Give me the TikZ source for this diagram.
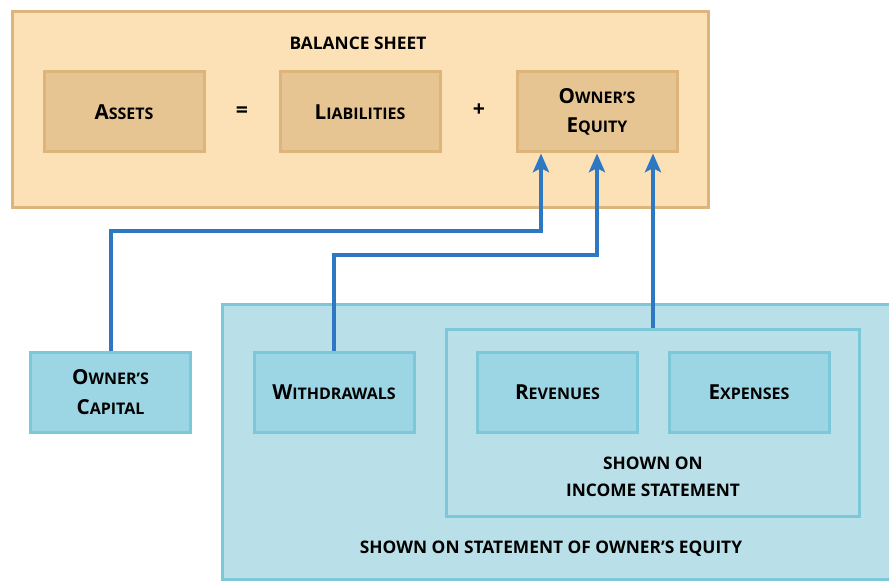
\documentclass[tikz,border=0pt]{standalone}
\usepackage{fontspec}
\setmainfont{Open Sans}
\usetikzlibrary{arrows.meta}
\definecolor{sheetline}{HTML}{DDB57A}
\definecolor{sheetfill}{HTML}{FCE1B6}
\definecolor{itemfill}{HTML}{E6C592}
\definecolor{stmtline}{HTML}{7CC8D9}
\definecolor{stmtfill}{HTML}{B9E0E9}
\definecolor{acctfill}{HTML}{9CD5E3}
\definecolor{flowblue}{HTML}{2E77C2}
\newcommand{\capfirst}[2]{{\fontsize{15.5}{15.5}\selectfont #1}#2}
\newcommand{\itemfont}{\fontsize{12}{22}\selectfont\bfseries}
\newcommand{\headfont}{\fontsize{13}{20}\selectfont\bfseries}
\begin{document}
\begin{tikzpicture}[x=0.75pt,y=-0.75pt,
    sheet/.style={draw=sheetline,fill=sheetfill,line width=2.25pt,inner sep=0pt},
    item/.style={draw=sheetline,fill=itemfill,line width=2.25pt,inner sep=0pt,
        minimum width=120pt,minimum height=60pt,align=center,font=\itemfont},
    stmt/.style={draw=stmtline,fill=stmtfill,line width=2.25pt,inner sep=0pt},
    acct/.style={item,draw=stmtline,fill=acctfill},
    note/.style={font=\headfont,align=center},
    flow/.style={draw=flowblue,line width=3pt,-{Stealth[length=14pt,width=12pt,inset=3pt]}}]
    \useasboundingbox (0,0) rectangle (889,581);
    % balance sheet
    \node[sheet,minimum width=522pt,minimum height=147pt] (bs) at (360.5,109.5) {};
    \node[note] (bstitle) at (358,43) {BALANCE SHEET};
    \node[item] (as) at (124,112) {\capfirst{A}{SSETS}};
    \node[item] (li) at (360,112) {\capfirst{L}{IABILITIES}};
    \node[item] (oe) at (597,112) {\capfirst{O}{WNER’S}\\\capfirst{E}{QUITY}};
    \node[note,font=\fontsize{16}{16}\selectfont\bfseries] (eq) at (242,112) {=};
    \node[note,font=\fontsize{16}{16}\selectfont\bfseries] (pl) at (479,110) {+};
    % statements
    \node[stmt,minimum width=515.6pt,minimum height=205.9pt] (soe) at (566,441.75) {};
    \node[stmt,minimum width=309.75pt,minimum height=140.25pt] (is) at (653,423) {};
    \node[acct] (cap) at (110.5,392) {\capfirst{O}{WNER’S}\\\capfirst{C}{APITAL}};
    \node[acct] (wd) at (334,392) {\capfirst{W}{ITHDRAWALS}};
    \node[acct] (rev) at (557.5,392) {\capfirst{R}{EVENUES}};
    \node[acct] (exp) at (749,392) {\capfirst{E}{XPENSES}};
    \node[note] (isnote) at (653,477) {SHOWN ON\\INCOME STATEMENT};
    \node[note] (soenote) at (551,549) {SHOWN ON STATEMENT OF OWNER’S EQUITY};
    % flows into equity
    \draw[flow] (cap.north) -- ++(0,-119.5) -| ([xshift=-42pt]oe.south);
    \draw[flow] (wd.north) -- ++(0,-95.5) -| (oe.south);
    \draw[flow] (is.north) -- ([xshift=42pt]oe.south);
\end{tikzpicture}
\end{document}
